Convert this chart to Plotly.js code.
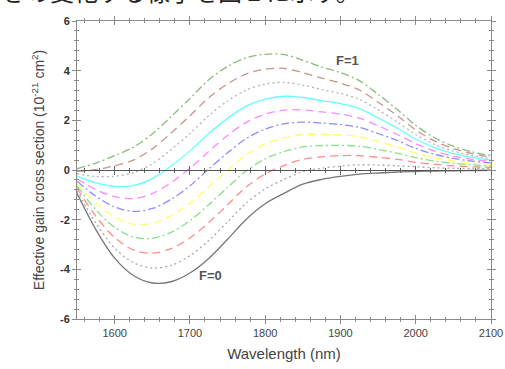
<!DOCTYPE html>
<html><head><meta charset="utf-8">
<script src="https://cdn.plot.ly/plotly-3.0.1.min.js"></script>
<style>html,body{margin:0;padding:0;background:#fff}#chart{width:505px;height:369px}</style>
</head><body><div id="chart"></div>
<script>
// Wavelength grid (nm)
const wavelength = [1550,1575,1600,1625,1650,1675,1700,1725,1750,1775,1800,1825,1850,1875,1900,1925,1950,1975,2000,2025,2050,2075,2100];
// Effective gain cross section (1e-21 cm2), one array per inversion F
const gF00 = [-0.94,-2.40,-3.55,-4.25,-4.55,-4.50,-4.15,-3.56,-2.79,-1.98,-1.36,-0.94,-0.57,-0.38,-0.26,-0.17,-0.12,-0.08,-0.06,-0.04,-0.03,-0.02,-0.01];
const gF01 = [-0.84,-2.13,-3.14,-3.73,-3.95,-3.84,-3.45,-2.84,-2.09,-1.33,-0.76,-0.38,-0.07,0.07,0.16,0.21,0.20,0.17,0.13,0.09,0.07,0.06,0.05];
const gF02 = [-0.74,-1.86,-2.72,-3.22,-3.35,-3.17,-2.74,-2.12,-1.40,-0.68,-0.16,0.18,0.43,0.53,0.58,0.58,0.51,0.43,0.31,0.23,0.17,0.13,0.11];
const gF03 = [-0.64,-1.60,-2.31,-2.70,-2.75,-2.51,-2.04,-1.40,-0.70,-0.03,0.45,0.74,0.93,0.98,0.99,0.96,0.83,0.68,0.50,0.36,0.27,0.21,0.17];
const gF04 = [-0.54,-1.33,-1.90,-2.18,-2.15,-1.84,-1.34,-0.68,-0.01,0.62,1.05,1.30,1.43,1.43,1.41,1.34,1.15,0.93,0.68,0.50,0.37,0.28,0.23];
const gF05 = [-0.45,-1.06,-1.49,-1.67,-1.55,-1.18,-0.64,0.04,0.69,1.27,1.65,1.86,1.93,1.89,1.83,1.72,1.47,1.19,0.87,0.63,0.47,0.36,0.29];
const gF06 = [-0.35,-0.79,-1.07,-1.15,-0.95,-0.51,0.07,0.75,1.39,1.92,2.25,2.41,2.42,2.34,2.25,2.09,1.78,1.44,1.06,0.76,0.56,0.43,0.34];
const gF07 = [-0.25,-0.52,-0.66,-0.63,-0.35,0.16,0.77,1.47,2.08,2.57,2.85,2.97,2.92,2.79,2.67,2.47,2.10,1.69,1.24,0.90,0.66,0.51,0.40];
const gF08 = [-0.15,-0.26,-0.25,-0.11,0.25,0.82,1.47,2.19,2.78,3.22,3.46,3.53,3.42,3.24,3.08,2.85,2.42,1.94,1.43,1.03,0.76,0.58,0.46];
const gF09 = [-0.05,0.01,0.17,0.40,0.85,1.49,2.18,2.91,3.47,3.87,4.06,4.09,3.92,3.70,3.50,3.22,2.73,2.20,1.61,1.17,0.86,0.66,0.52];
const gF10 = [0.05,0.28,0.58,0.92,1.45,2.15,2.88,3.63,4.17,4.52,4.66,4.65,4.42,4.15,3.92,3.60,3.05,2.45,1.80,1.30,0.96,0.73,0.58];
const seriesNames = ["F=0","F=0.1","F=0.2","F=0.3","F=0.4","F=0.5","F=0.6","F=0.7","F=0.8","F=0.9","F=1"];
const yTickVals = [-6,-4,-2,0,2,4,6];
const yTickText = ["-6","-4","-2","0","2","4","6"];
const xTickVals = [1600,1700,1800,1900,2000,2100];
const topText = "きの変化する様子を図 2 に示す。";

const series = [gF00,gF01,gF02,gF03,gF04,gF05,gF06,gF07,gF08,gF09,gF10];
const styles = [
  {color:'#777777', dash:'solid'},
  {color:'#a8a8a8', dash:'2px,3px'},
  {color:'#ff8c8c', dash:'8px,5px'},
  {color:'#88e088', dash:'8px,3px,2px,3px'},
  {color:'#ffff66', dash:'8px,5px'},
  {color:'#8c8cff', dash:'8px,3px,2px,3px'},
  {color:'#ff88ff', dash:'8px,5px'},
  {color:'#66ffff', dash:'solid'},
  {color:'#b4b4b4', dash:'2px,3px'},
  {color:'#c8948a', dash:'8px,5px'},
  {color:'#8cba7c', dash:'8px,3px,2px,3px'}
];
const traces = series.map((s,i)=>({
  x: wavelength, y: s, name: seriesNames[i], type:'scatter', mode:'lines',
  line:{color:styles[i].color, dash:styles[i].dash, width:1.3, shape:'spline', smoothing:0.9},
  hoverinfo:'skip'
}));
// empty helper traces so the extra overlay axes get drawn
traces.push({x:[],y:[],xaxis:'x2',yaxis:'y2',type:'scatter',mode:'lines',showlegend:false});
traces.push({x:[],y:[],xaxis:'x3',yaxis:'y',type:'scatter',mode:'lines',showlegend:false});
traces.push({x:[],y:[],xaxis:'x4',yaxis:'y',type:'scatter',mode:'lines',showlegend:false});

const axColor = '#8a8a8a';
const tickFont = {family:'Liberation Sans, Arial, sans-serif', size:11, color:'#444'};
const xbase = {range:[1550,2100], tickvals:xTickVals, showgrid:false, zeroline:false};
const layout = {
  width:505, height:369, margin:{l:77,r:14,t:21,b:50,pad:0},
  paper_bgcolor:'#fff', plot_bgcolor:'#fff', showlegend:false,
  font:{family:'Liberation Sans, Arial, sans-serif', color:'#444'},
  xaxis: Object.assign({}, xbase, {
    ticks:'outside', ticklen:4, tickcolor:axColor, mirror:'ticks', showline:true, linecolor:axColor, linewidth:1,
    minor:{dtick:20, ticks:'outside', ticklen:2, tickcolor:axColor},
    tickfont:tickFont,
    title:{text:'Wavelength (nm)', font:{size:15, color:'#444'}, standoff:10}
  }),
  xaxis2: Object.assign({}, xbase, {
    overlaying:'x', anchor:'y2', side:'bottom',
    ticks:'inside', ticklen:4, tickcolor:axColor, mirror:'ticks', showline:false, showticklabels:false,
    minor:{dtick:20, ticks:'inside', ticklen:2, tickcolor:axColor}
  }),
  xaxis3: Object.assign({}, xbase, {
    overlaying:'x', anchor:'free', position:0.5, side:'bottom',
    ticks:'inside', ticklen:4, tickcolor:'#666', showline:true, linecolor:'#555', linewidth:1.3, showticklabels:false,
    minor:{dtick:20, ticks:'inside', ticklen:2, tickcolor:'#666'}
  }),
  xaxis4: Object.assign({}, xbase, {
    overlaying:'x', anchor:'free', position:0.5, side:'bottom',
    ticks:'outside', ticklen:4, tickcolor:'#666', showline:false, showticklabels:false,
    minor:{dtick:20, ticks:'outside', ticklen:2, tickcolor:'#666'}
  }),
  yaxis: {
    range:[-6,6], tickvals:yTickVals, ticktext:yTickText, showgrid:false, zeroline:false,
    ticks:'outside', ticklen:4, tickcolor:axColor, mirror:'ticks', showline:true, linecolor:axColor, linewidth:1,
    minor:{dtick:0.4, ticks:'outside', ticklen:2, tickcolor:axColor},
    tickfont:{family:'Liberation Sans, Arial, sans-serif', size:11, color:'#333', weight:'bold'},
    title:{text:'Effective gain cross section (10<sup>-21</sup> cm<sup>2</sup>)', font:{size:14, color:'#444'}, standoff:12}
  },
  yaxis2: {
    range:[-6,6], tickvals:yTickVals, overlaying:'y', anchor:'x2', side:'left', showgrid:false, zeroline:false,
    ticks:'inside', ticklen:4, tickcolor:axColor, mirror:'ticks', showline:false, showticklabels:false,
    minor:{dtick:0.4, ticks:'inside', ticklen:2, tickcolor:axColor}
  },
  annotations:[
    {text:'F=1', x:1909, y:4.4, xref:'x', yref:'y', showarrow:false, font:{size:13, color:'#555', weight:'bold'}},
    {text:'F=0', x:1727, y:-4.23, xref:'x', yref:'y', showarrow:false, font:{size:13, color:'#555', weight:'bold'}},
    {text:topText, x:-0.186, y:1.037, xref:'paper', yref:'paper', xanchor:'left', yanchor:'bottom', showarrow:false,
     font:{family:'Noto Sans CJK JP', size:24, color:'#222'}}
  ]
};
Plotly.newPlot('chart', traces, layout, {staticPlot:true, displayModeBar:false});
</script></body></html>
